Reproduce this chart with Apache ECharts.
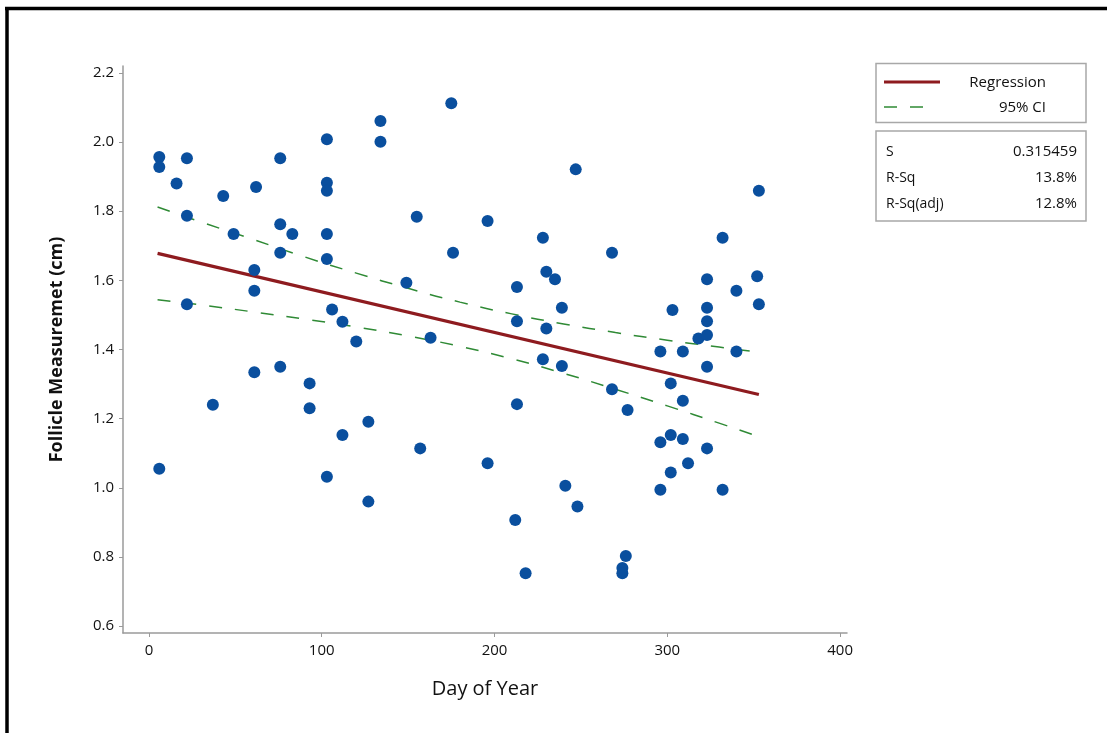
<!DOCTYPE html>
<html>
<head>
<meta charset="utf-8">
<script src="https://cdn.jsdelivr.net/npm/echarts@6/dist/echarts.min.js"></script>
<style>
html,body{margin:0;padding:0;background:#fff;}
#chart{width:1107px;height:733px;}
</style>
</head>
<body>
<div id="chart"></div>
<script>
// Scatter data (Day of Year, Follicle Measurement)
const dayOfYear = [6,6,6,16,22,22,22,37,43,49,61,61,61,62,76,76,76,76,83,93,93,103,103,103,103,103,103,106,112,112,120,127,127,134,134,149,155,157,163,175,176,196,196,212,213,213,213,218,228,228,230,230,235,239,239,241,247,248,268,268,274,274,276,277,296,296,296,302,302,302,303,309,309,309,312,318,323,323,323,323,323,323,332,332,340,340,352,353,353];
const follicle = [1.957,1.928,1.055,1.880,1.953,1.787,1.531,1.240,1.844,1.734,1.630,1.570,1.334,1.870,1.953,1.762,1.680,1.350,1.734,1.302,1.230,2.008,1.882,1.859,1.734,1.662,1.032,1.516,1.480,1.153,1.423,1.191,0.960,2.061,2.001,1.593,1.784,1.114,1.434,2.112,1.680,1.772,1.071,0.907,1.581,1.482,1.242,0.753,1.723,1.372,1.625,1.461,1.603,1.521,1.352,1.006,1.921,0.946,1.680,1.285,0.768,0.753,0.803,1.225,1.394,1.132,0.994,1.302,1.153,1.044,1.514,1.394,1.252,1.141,1.071,1.432,1.603,1.521,1.482,1.442,1.350,1.114,1.723,0.994,1.570,1.394,1.612,1.531,1.859];

// Regression line endpoints
const regX = [5, 353];
const regY = [1.678, 1.270];

// 95% CI bands
const ciX     = [5, 30, 60, 90, 120, 150, 180, 210, 240, 270, 300, 330, 353];
const ciUpper = [1.812,1.769,1.719,1.668,1.621,1.577,1.537,1.503,1.474,1.449,1.427,1.407,1.392];
const ciLower = [1.544,1.529,1.509,1.488,1.465,1.439,1.409,1.373,1.331,1.285,1.237,1.187,1.148];

// Tick labels
const xTicks = [0, 100, 200, 300, 400];
const yTicks = [0.6, 0.8, 1.0, 1.2, 1.4, 1.6, 1.8, 2.0, 2.2];

const pts = dayOfYear.map((d, i) => [d, follicle[i]]);
const regData = regX.map((d, i) => [d, regY[i]]);
const upData = ciX.map((d, i) => [d, ciUpper[i]]);
const loData = ciX.map((d, i) => [d, ciLower[i]]);

const FONT = "'Open Sans', 'Noto Sans', sans-serif";
const axisColor = '#9a9a9a';

const chart = echarts.init(document.getElementById('chart'), null, {renderer: 'canvas'});
chart.setOption({
  animation: false,
  backgroundColor: '#fff',
  grid: {left: 123, right: 260, top: 66, bottom: 100, outerBoundsMode: 'none'},
  xAxis: {
    type: 'value', min: -15, max: 404,
    name: 'Day of Year', nameLocation: 'middle', nameGap: 46,
    nameTextStyle: {fontFamily: FONT, fontSize: 20, color: '#111'},
    axisLine: {show: true, onZero: false, lineStyle: {color: axisColor, width: 1.5}},
    axisTick: {show: true, length: 4, customValues: xTicks, lineStyle: {color: axisColor}},
    axisLabel: {customValues: xTicks, fontFamily: FONT, fontSize: 15, color: '#111', margin: 10},
    splitLine: {show: false}
  },
  yAxis: {
    type: 'value', min: 0.58, max: 2.22,
    name: 'Follicle Measuremet (cm)', nameLocation: 'middle', nameGap: 57,
    nameTextStyle: {fontFamily: FONT, fontSize: 18, fontWeight: 'bold', color: '#111'},
    axisLine: {show: true, onZero: false, lineStyle: {color: axisColor, width: 1.5}},
    axisTick: {show: true, length: 4, customValues: yTicks, lineStyle: {color: axisColor}},
    axisLabel: {customValues: yTicks, fontFamily: FONT, fontSize: 15, color: '#111', margin: 9,
      formatter: v => Number(v).toFixed(1)},
    splitLine: {show: false}
  },
  series: [
    {type: 'line', data: upData, smooth: true, symbol: 'none', z: 3,
     lineStyle: {color: '#2f8a35', width: 1.5, type: [13, 13]}},
    {type: 'line', data: loData, smooth: true, symbol: 'none', z: 3,
     lineStyle: {color: '#2f8a35', width: 1.5, type: [13, 13]}},
    {type: 'line', data: regData, symbol: 'none', z: 4,
     lineStyle: {color: '#8e1b1f', width: 3.2}},
    {type: 'scatter', data: pts, symbol: 'circle', symbolSize: 12, z: 5,
     itemStyle: {color: '#0a4f9e', opacity: 1}}
  ],
  graphic: [
    // outer frame (top and left)
    {type: 'line', shape: {x1: 5, y1: 8.5, x2: 1107, y2: 8.5}, style: {stroke: '#000', lineWidth: 3.5}},
    {type: 'line', shape: {x1: 7, y1: 7, x2: 7, y2: 733}, style: {stroke: '#000', lineWidth: 3.5}},
    // legend box
    {type: 'rect', shape: {x: 876, y: 63.5, width: 210, height: 59}, style: {fill: '#fff', stroke: '#a8a8a8', lineWidth: 1.5}},
    {type: 'line', shape: {x1: 884, y1: 82, x2: 940, y2: 82}, style: {stroke: '#8e1b1f', lineWidth: 3}},
    {type: 'text', style: {text: 'Regression', x: 1046, y: 83, align: 'right', verticalAlign: 'middle', font: "15px " + FONT, fill: '#111'}},
    {type: 'line', shape: {x1: 884, y1: 107, x2: 936, y2: 107}, style: {stroke: '#2f8a35', lineWidth: 1.5, lineDash: [13, 13]}},
    {type: 'text', style: {text: '95% CI', x: 1046, y: 108, align: 'right', verticalAlign: 'middle', font: "15px " + FONT, fill: '#111'}},
    // stats box
    {type: 'rect', shape: {x: 876, y: 131, width: 210, height: 90}, style: {fill: '#fff', stroke: '#a8a8a8', lineWidth: 1.5}},
    {type: 'text', style: {text: 'S', x: 886, y: 152, align: 'left', verticalAlign: 'middle', font: "14px " + FONT, fill: '#111'}},
    {type: 'text', style: {text: '0.315459', x: 1077, y: 152, align: 'right', verticalAlign: 'middle', font: "15px " + FONT, fill: '#111'}},
    {type: 'text', style: {text: 'R-Sq', x: 886, y: 178, align: 'left', verticalAlign: 'middle', font: "14px " + FONT, fill: '#111'}},
    {type: 'text', style: {text: '13.8%', x: 1077, y: 178, align: 'right', verticalAlign: 'middle', font: "15px " + FONT, fill: '#111'}},
    {type: 'text', style: {text: 'R-Sq(adj)', x: 886, y: 204, align: 'left', verticalAlign: 'middle', font: "14px " + FONT, fill: '#111'}},
    {type: 'text', style: {text: '12.8%', x: 1077, y: 204, align: 'right', verticalAlign: 'middle', font: "15px " + FONT, fill: '#111'}}
  ]
});
</script>
</body>
</html>
